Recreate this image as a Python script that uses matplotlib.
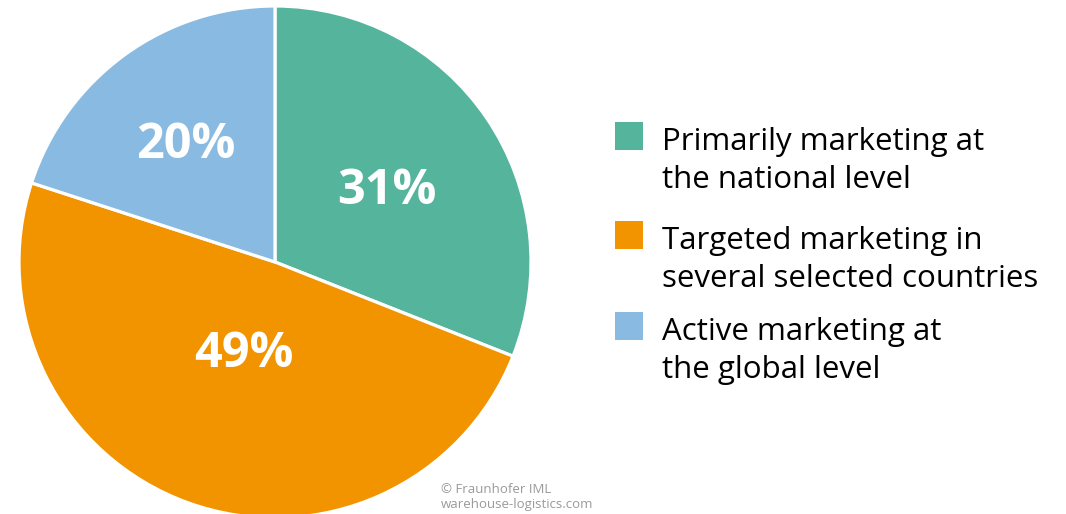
import numpy as np
import matplotlib.pyplot as plt

plt.rcParams['font.family'] = ['Open Sans', 'DejaVu Sans']

# Share of companies by marketing scope
labels = [["Primarily marketing at", "the national level"],
          ["Targeted marketing in", "several selected countries"],
          ["Active marketing at", "the global level"]]
shares = [31, 49, 20]
colors = ["#55B49C", "#F29400", "#89BBE2"]
label_radius = [0.53, 0.36, 0.59]

fig = plt.figure(figsize=(10.66, 5.14), dpi=100)

# pie axes, 512 px square centred at (275, 262) from top-left
ax = fig.add_axes([19 / 1066, -4 / 514, 512 / 1066, 512 / 514])
wedges, _ = ax.pie(shares, colors=colors, startangle=90, counterclock=False,
                   radius=1.0, wedgeprops=dict(edgecolor="white", linewidth=2.3))
ax.set_xlim(-1, 1)
ax.set_ylim(-1, 1)
ax.set_aspect("equal")
ax.axis("off")

for w, v, r in zip(wedges, shares, label_radius):
    mid = np.deg2rad((w.theta1 + w.theta2) / 2)
    ax.annotate(f"{v}%", (r * np.cos(mid), r * np.sin(mid)),
                xytext=(0, -18.5), textcoords="offset pixels",
                color="white", fontsize=35, fontweight="bold",
                ha="center", va="baseline")

# legend drawn by hand on the right, in pixel coordinates
lx = fig.add_axes([0, 0, 1, 1], facecolor="none")
lx.set_xlim(0, 1066)
lx.set_ylim(514, 0)
lx.axis("off")
box_tops = [122, 221, 312]
for top, c, lines in zip(box_tops, colors, labels):
    lx.add_patch(plt.Rectangle((615, top), 28, 28, color=c, lw=0))
    for i, line in enumerate(lines):
        lx.text(662, top + 28 + 38 * i, line, fontsize=22.5,
                va="baseline", ha="left", color="black")

lx.text(441, 493, "© Fraunhofer IML", fontsize=9.5, color="#9a9a9a",
        va="baseline", ha="left")
lx.text(441, 508, "warehouse-logistics.com", fontsize=9.5, color="#9a9a9a",
        va="baseline", ha="left")

fig.savefig("out.png", dpi=100, facecolor="white")
